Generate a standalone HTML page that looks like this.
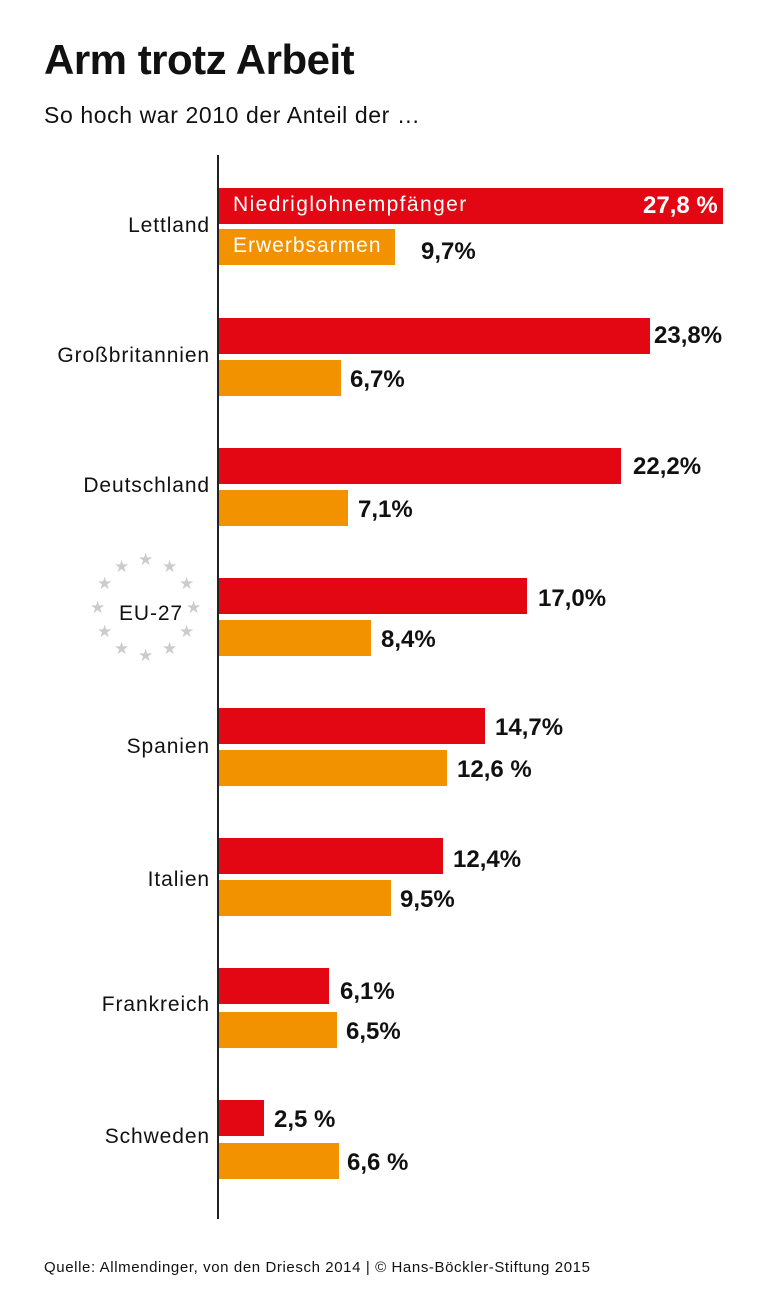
<!DOCTYPE html>
<html><head><meta charset="utf-8"><style>
body{margin:0;background:#fff;}
#c{position:relative;width:768px;height:1308px;overflow:hidden;font-family:"Liberation Sans",sans-serif;color:#111;}
.t{position:absolute;white-space:nowrap;}
.bar{position:absolute;left:219px;height:36px;}
.r{background:#e30613;}
.o{background:#f39200;}
.lab{position:absolute;right:558px;font-size:21px;letter-spacing:0.9px;white-space:nowrap;}
.v{position:absolute;font-weight:bold;font-size:24px;white-space:nowrap;}
</style></head><body><div id="c">
<div class="t" style="left:44px;top:36px;font-size:42px;font-weight:bold;letter-spacing:-0.5px">Arm trotz Arbeit</div>
<div class="t" style="left:44px;top:102px;font-size:23px;letter-spacing:0.6px">So hoch war 2010 der Anteil der …</div>
<div style="position:absolute;left:217px;top:155px;width:1.5px;height:1064px;background:#222"></div>

<div class="bar r" style="top:188px;width:504px"></div>
<div class="t" style="left:233px;top:193px;font-size:21px;color:#fff;letter-spacing:1.4px">Niedriglohnempfänger</div>
<div class="v" style="left:643px;top:192px;color:#fff">27,8 %</div>
<div class="bar o" style="top:229px;width:176px"></div>
<div class="t" style="left:233px;top:234px;font-size:21px;color:#fff;letter-spacing:1px">Erwerbsarmen</div>
<div class="v" style="left:421px;top:238px">9,7%</div>
<div class="lab" style="top:214px">Lettland</div>

<div class="bar r" style="top:318px;width:431px"></div>
<div class="v" style="left:654px;top:322px">23,8%</div>
<div class="bar o" style="top:360px;width:122px"></div>
<div class="v" style="left:350px;top:366px">6,7%</div>
<div class="lab" style="top:344px">Großbritannien</div>

<div class="bar r" style="top:448px;width:402px"></div>
<div class="v" style="left:633px;top:453px">22,2%</div>
<div class="bar o" style="top:490px;width:129px"></div>
<div class="v" style="left:358px;top:496px">7,1%</div>
<div class="lab" style="top:474px">Deutschland</div>

<div class="bar r" style="top:578px;width:308px"></div>
<div class="v" style="left:538px;top:585px">17,0%</div>
<div class="bar o" style="top:620px;width:152px"></div>
<div class="v" style="left:381px;top:626px">8,4%</div>
<div class="lab" style="top:602px;right:585px">EU-27</div>
<div style="position:absolute;left:85px;top:550px;width:120px;height:120px;color:#ccc;font-size:17px">
<span class="t" style="left:53px;top:0px">★</span>
<span class="t" style="left:77px;top:7px">★</span>
<span class="t" style="left:94px;top:24px">★</span>
<span class="t" style="left:101px;top:48px">★</span>
<span class="t" style="left:94px;top:72px">★</span>
<span class="t" style="left:77px;top:89px">★</span>
<span class="t" style="left:53px;top:96px">★</span>
<span class="t" style="left:29px;top:89px">★</span>
<span class="t" style="left:12px;top:72px">★</span>
<span class="t" style="left:5px;top:48px">★</span>
<span class="t" style="left:12px;top:24px">★</span>
<span class="t" style="left:29px;top:7px">★</span>
</div>

<div class="bar r" style="top:708px;width:266px"></div>
<div class="v" style="left:495px;top:714px">14,7%</div>
<div class="bar o" style="top:750px;width:228px"></div>
<div class="v" style="left:457px;top:756px">12,6 %</div>
<div class="lab" style="top:735px">Spanien</div>

<div class="bar r" style="top:838px;width:224px"></div>
<div class="v" style="left:453px;top:846px">12,4%</div>
<div class="bar o" style="top:880px;width:172px"></div>
<div class="v" style="left:400px;top:886px">9,5%</div>
<div class="lab" style="top:868px">Italien</div>

<div class="bar r" style="top:968px;width:110px"></div>
<div class="v" style="left:340px;top:978px">6,1%</div>
<div class="bar o" style="top:1012px;width:118px"></div>
<div class="v" style="left:346px;top:1018px">6,5%</div>
<div class="lab" style="top:993px">Frankreich</div>

<div class="bar r" style="top:1100px;width:45px"></div>
<div class="v" style="left:274px;top:1106px">2,5 %</div>
<div class="bar o" style="top:1143px;width:120px"></div>
<div class="v" style="left:347px;top:1149px">6,6 %</div>
<div class="lab" style="top:1125px">Schweden</div>

<div class="t" style="left:44px;top:1259px;font-size:15px;letter-spacing:0.6px">Quelle: Allmendinger, von den Driesch 2014 | © Hans-Böckler-Stiftung 2015</div>
</div></body></html>
